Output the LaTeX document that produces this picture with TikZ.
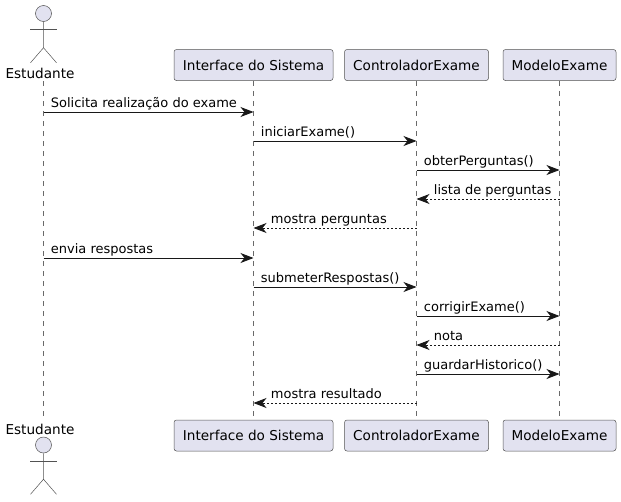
\documentclass[tikz,border=0pt]{standalone}
\usepackage{fontspec}
\setmainfont{DejaVu Sans}
\usetikzlibrary{arrows.meta,positioning}
\definecolor{umlfill}{RGB}{226,226,240}
\definecolor{umlline}{RGB}{24,24,24}
\tikzstyle{participant} = [rectangle, rounded corners=2.5pt, minimum height=31pt, inner xsep=0pt, text centered, draw=umlline!75, fill=umlfill, line width=0.5pt, font=\fontsize{13.6}{16}\selectfont]
\tikzstyle{actorhead} = [circle, minimum size=16pt, inner sep=0pt, draw=umlline!75, fill=umlfill, line width=0.5pt]
\tikzstyle{actorlabel} = [inner sep=0pt, font=\fontsize{13.6}{16}\selectfont]
\tikzstyle{limb} = [draw=umlline!75, line width=0.5pt]
\tikzstyle{lifeline} = [draw=umlline!65, line width=0.5pt, dash pattern=on 5pt off 5pt]
\tikzstyle{msg} = [draw=umlline, line width=0.8pt, -{Stealth[length=13pt,width=10pt,inset=4pt]}]
\tikzstyle{reply} = [msg, dash pattern=on 2pt off 2pt]
\tikzstyle{msglabel} = [anchor=base west, inner sep=0pt, yshift=4.7pt, font=\fontsize{13}{15}\selectfont, text=black]
\begin{document}
\begin{tikzpicture}[x=1pt, y=-1pt]
\useasboundingbox (0,0) rectangle (621,501);
% Participants, top row
\node (ifaceT) [participant, minimum width=159pt] at (253.5,65) {Interface do Sistema};
\node (ctrlT) [participant, minimum width=144pt] at (416.5,65) {ControladorExame};
\node (modelT) [participant, minimum width=113pt] at (559.5,65) {ModeloExame};

% Participants, bottom row
\node (ifaceB) [participant, minimum width=159pt] at (253.5,435.5) {Interface do Sistema};
\node (ctrlB) [participant, minimum width=144pt] at (416.5,435.5) {ControladorExame};
\node (modelB) [participant, minimum width=113pt] at (559.5,435.5) {ModeloExame};

% Actor labels
\node (actorT) [actorlabel] at (40,73) {Estudante};
\node (actorB) [actorlabel] at (40,429) {Estudante};
\coordinate (studT) at (43.5,81);
\coordinate (studB) at (43.5,420);

% Lifelines
\draw[lifeline] (studT) -- (studB);
\draw[lifeline] (ifaceT) -- (ifaceB);
\draw[lifeline] (ctrlT) -- (ctrlB);
\draw[lifeline] (modelT) -- (modelB);

% Actor figures
\node (headT) [actorhead] at (43.5,13.5) {};
\draw[limb] (headT.south) -- ++(0,26) -- ++(-13,15) ++(13,-15) -- ++(13,15);
\draw[limb] (30,29) -- (57,29);
\node (headB) [actorhead] at (43.5,445) {};
\draw[limb] (headB.south) -- ++(0,26) -- ++(-13,15) ++(13,-15) -- ++(13,15);
\draw[limb] (30,461) -- (57,461);

% Messages
\draw[msg] (studT |- 0,112) -- node[msglabel, at start, xshift=7pt] (m1) {Solicita realização do exame} (ifaceT |- 0,112);
\draw[msg] (ifaceT |- 0,141) -- node[msglabel, at start, xshift=7pt] (m2) {iniciarExame()} (ctrlT |- 0,141);
\draw[msg] (ctrlT |- 0,170) -- node[msglabel, at start, xshift=7pt] (m3) {obterPerguntas()} (modelT |- 0,170);
\draw[reply] (modelT |- 0,199) -- node[msglabel, at end, xshift=17pt] (m4) {lista de perguntas} (ctrlT |- 0,199);
\draw[reply] (ctrlT |- 0,228) -- node[msglabel, at end, xshift=17pt] (m5) {mostra perguntas} (ifaceT |- 0,228);
\draw[msg] (studT |- 0,258) -- node[msglabel, at start, xshift=7pt] (m6) {envia respostas} (ifaceT |- 0,258);
\draw[msg] (ifaceT |- 0,287) -- node[msglabel, at start, xshift=7pt] (m7) {submeterRespostas()} (ctrlT |- 0,287);
\draw[msg] (ctrlT |- 0,316) -- node[msglabel, at start, xshift=7pt] (m8) {corrigirExame()} (modelT |- 0,316);
\draw[reply] (modelT |- 0,345) -- node[msglabel, at end, xshift=17pt] (m9) {nota} (ctrlT |- 0,345);
\draw[msg] (ctrlT |- 0,374) -- node[msglabel, at start, xshift=7pt] (m10) {guardarHistorico()} (modelT |- 0,374);
\draw[reply] (ctrlT |- 0,403) -- node[msglabel, at end, xshift=17pt] (m11) {mostra resultado} (ifaceT |- 0,403);
\end{tikzpicture}
\end{document}
